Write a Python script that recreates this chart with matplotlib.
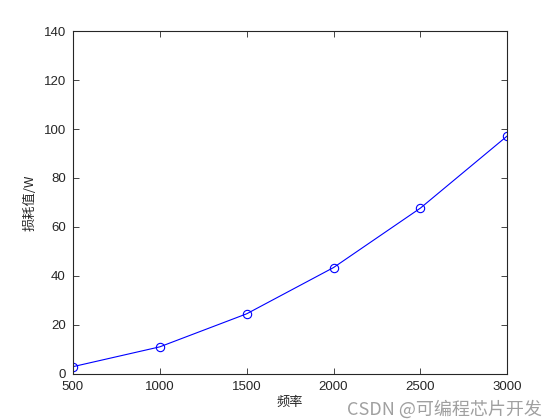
import matplotlib
matplotlib.use('Agg')
import matplotlib.pyplot as plt

plt.rcParams['font.family'] = ['Liberation Sans', 'Noto Sans CJK SC', 'DejaVu Sans']

freq = [500, 1000, 1500, 2000, 2500, 3000]
loss = [2.9, 11.0, 24.5, 43.4, 67.7, 97.2]
x_ticks = [500, 1000, 1500, 2000, 2500, 3000]
y_ticks = [0, 20, 40, 60, 80, 100, 120, 140]

fig = plt.figure(figsize=(5.6, 4.2), dpi=100)
ax = fig.add_axes([0.13, 0.11, 0.776, 0.816])

ax.plot(freq, loss, color='#0000ff', lw=0.8, marker='o', markersize=6,
        markerfacecolor='none', markeredgecolor='#0000ff', markeredgewidth=0.8)

ax.set_xlim(500, 3000)
ax.set_ylim(0, 140)
ax.set_xticks(x_ticks)
ax.set_yticks(y_ticks)
ax.tick_params(direction='in', top=True, right=True, length=4, width=0.6,
               labelsize=9.5, colors='#262626')
ax.tick_params(axis='x', pad=5)
ax.tick_params(axis='y', pad=5)
for s in ax.spines.values():
    s.set_linewidth(0.8)
    s.set_color('#262626')

cjk = ['Noto Sans CJK SC', 'DejaVu Sans']
ax.set_xlabel('频率', fontsize=9.5, color='#262626', family=cjk, labelpad=2)
ax.set_ylabel('损耗值/W', fontsize=9.5, color='#262626', family=cjk, labelpad=5)

# watermark
fig.text(0.968, 0.002, 'CSDN @可编程芯片开发', ha='right', va='bottom', fontsize=13,
         color='#a0a0a0', family=cjk)

fig.savefig('out.png', dpi=100)
